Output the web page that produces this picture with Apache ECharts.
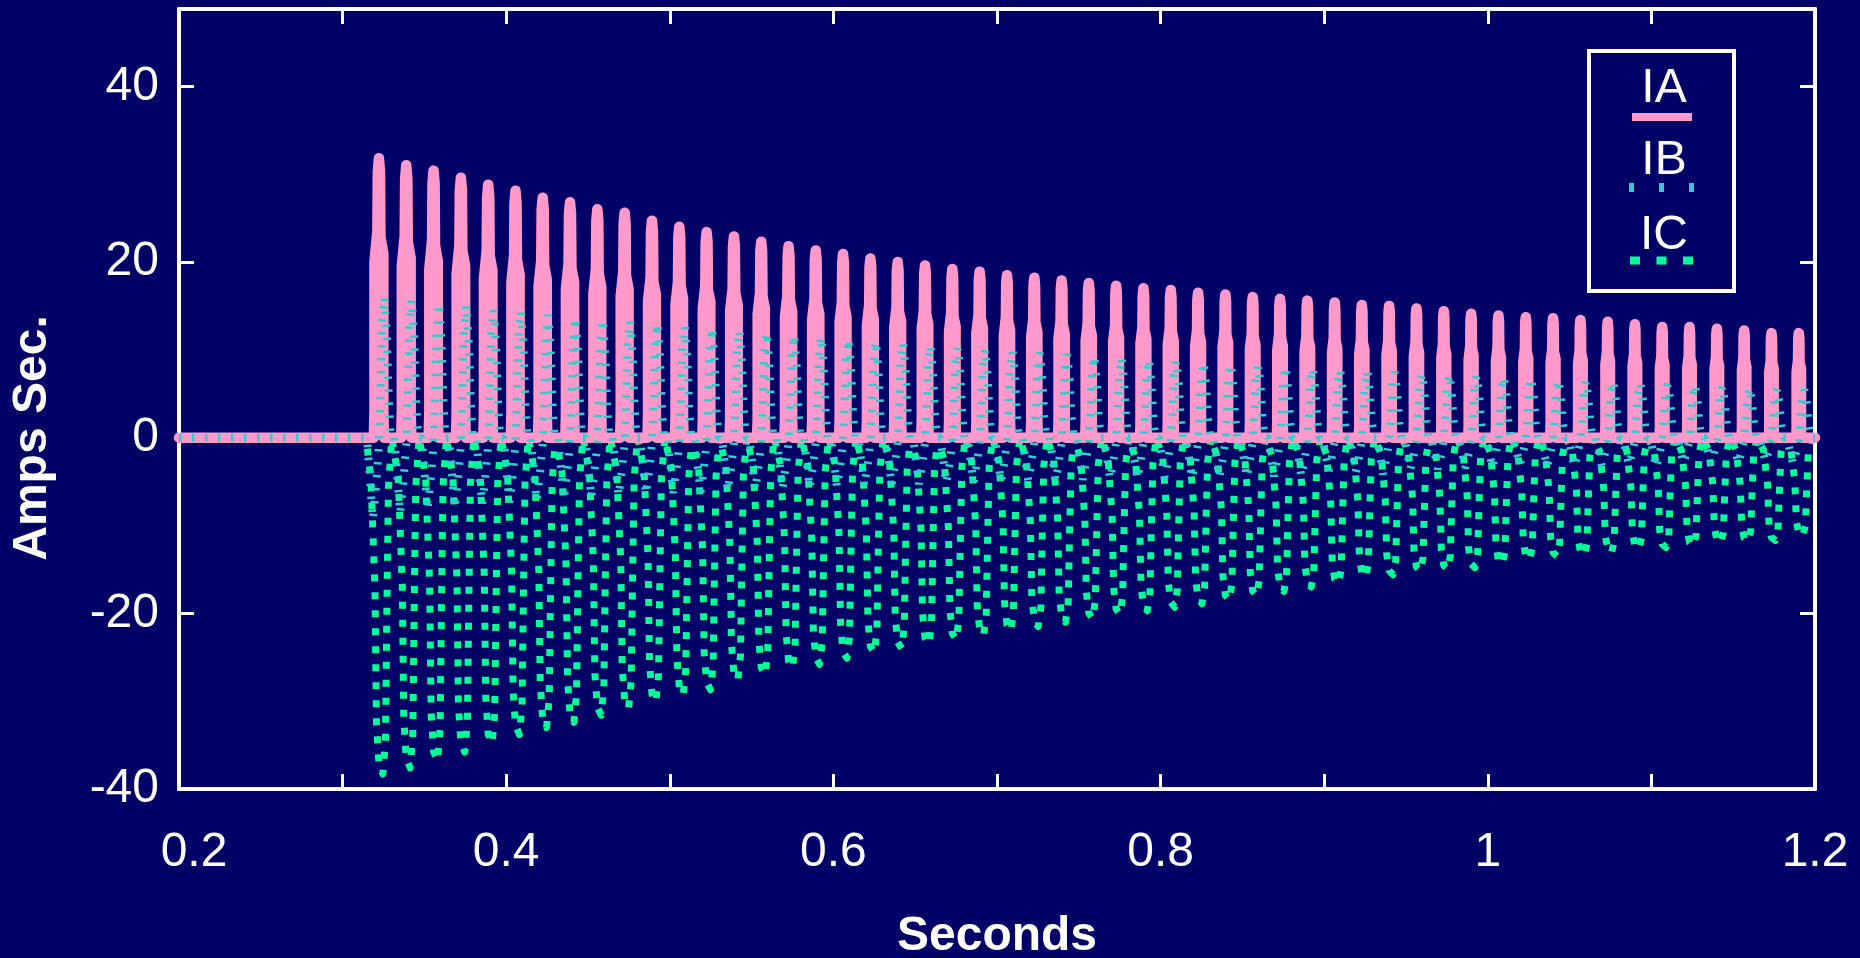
<!DOCTYPE html>
<html>
<head>
<meta charset="utf-8">
<title>Amps Sec.</title>
<script src="https://cdn.jsdelivr.net/npm/echarts@6/dist/echarts.min.js"></script>
<style>
html,body{margin:0;padding:0;background:#000066;}
#chart1{width:1860px;height:958px;}
</style>
</head>
<body>
<div id="chart1"></div>
<script>
// 每个周波峰值时刻 (s)
var cycleTimes = [0.3222,0.3389,0.3556,0.3723,0.3890,0.4057,0.4223,0.4390,0.4557,0.4724,
    0.4891,0.5058,0.5225,0.5392,0.5559,0.5726,0.5892,0.6059,0.6226,0.6393,
    0.6560,0.6727,0.6894,0.7061,0.7228,0.7395,0.7561,0.7728,0.7895,0.8062,
    0.8229,0.8396,0.8563,0.8730,0.8897,0.9064,0.9230,0.9397,0.9564,0.9731,
    0.9898,1.0065,1.0232,1.0399,1.0566,1.0733,1.0899,1.1066,1.1233,1.1400,
    1.1567,1.1734,1.1901];
// IA 每个周波的峰值
var iaPeaks = [31.8,31.0,30.4,29.6,28.8,28.1,27.3,26.8,26.0,25.6,
    24.7,24.0,23.4,22.9,22.3,21.8,21.3,20.9,20.4,20.0,
    19.6,19.2,18.9,18.5,18.2,17.9,17.6,17.3,17.0,16.8,
    16.5,16.3,16.0,15.8,15.6,15.4,15.1,15.0,14.7,14.4,
    14.1,13.9,13.7,13.6,13.4,13.2,12.9,12.6,12.6,12.4,
    12.2,11.9,11.9];
// IA 脉冲半宽 (ms)
var iaHalfWidths = [2.7,2.7,2.6,2.6,2.6,2.5,2.5,2.5,2.4,2.4,
    2.4,2.3,2.3,2.3,2.2,2.2,2.2,2.1,2.1,2.1,
    2.0,2.0,2.0,1.9,1.9,1.9,1.9,1.8,1.8,1.8,
    1.8,1.7,1.7,1.7,1.7,1.6,1.6,1.6,1.6,1.5,
    1.5,1.5,1.5,1.5,1.4,1.4,1.4,1.4,1.4,1.4,
    1.35,1.35,1.35];
// IB 正峰 / 负谷
var ibPeaks = [16.0,15.7,15.3,15.1,14.6,14.4,14.0,13.7,13.5,13.3,
    13.0,12.7,12.5,12.2,12.0,11.7,11.5,11.2,11.0,10.8,
    10.5,10.3,10.1,9.9,9.7,9.5,9.3,9.1,8.9,8.8,
    8.6,8.4,8.2,8.1,7.9,7.7,7.6,7.5,7.3,7.2,
    7.1,6.9,6.8,6.6,6.5,6.4,6.2,6.1,6.0,5.9,
    5.7,5.6,5.5];
var ibDips = [-9.3,-8.6,-8.2,-8.0,-7.6,-7.4,-7.2,-7.0,-6.8,-6.6,
    -6.4,-6.3,-6.2,-6.0,-5.9,-5.8,-5.7,-5.6,-5.5,-5.4,
    -5.3,-5.2,-5.1,-5.0,-4.9,-4.9,-4.8,-4.7,-4.7,-4.6,
    -4.6,-4.5,-4.5,-4.4,-4.4,-3.8,-3.9,-4.2,-3.6,-3.6,
    -3.5,-3.4,-3.1,-3.3,-3.3,-3.2,-3.1,-3.4,-2.9,-3.0,
    -2.9,-2.7,-2.9];
// IC 负谷
var icTroughs = [-38.3,-37.6,-36.8,-35.8,-34.8,-33.8,-33.0,-32.4,-31.6,-30.8,
    -30.1,-29.3,-28.7,-27.6,-27.0,-26.2,-25.8,-25.1,-24.5,-24.0,
    -23.5,-23.0,-22.5,-22.0,-21.5,-21.0,-20.6,-20.1,-19.7,-19.3,
    -18.9,-18.5,-18.0,-17.5,-17.0,-16.6,-15.9,-15.6,-15.2,-15.0,
    -14.8,-14.4,-13.9,-13.5,-13.4,-13.1,-12.7,-12.5,-12.3,-12.0,
    -11.8,-11.7,-11.2];

// 脉冲形状: [偏移, 比例]  IA 偏移单位为半宽, IB/IC 偏移单位为 ms
var iaShape = [[-1.15,0],[-1.0,0.1],[-1.0,0.63],[-0.35,0.74],[-0.25,0.95],[0,1],[0.25,0.95],[0.35,0.72],[1.0,0.66],[1.0,0.1],[1.15,0]];
var ibShape = [[-7.3,0,0],[-5.5,0,0.5],[-3.7,0,1],[-1.8,0,0.6],[0,0,0.1],[0.9,0.3,0],[1.8,0.8,0],[3.4,1,0],[4.9,0.7,0],[6.1,0.25,0],[7.3,0,0]];
var icShape = [[-7.9,0],[-4.9,0.12],[-2.4,0.45],[-1.5,0.85],[0,0.97],[2.4,1],[4.0,0.9],[4.9,0.5],[5.8,0.15],[7.9,0]];

var xRange = [0.2, 1.2];
var yRange = [-40, 48.8];

var seriesNames = ['IA','IB','IC'];
var seriesColors = ['#ff99cc','#33cccc','#00ff99'];

var fontName = "'Liberation Sans', Arial, sans-serif";

function buildIA(){
    var out = [[xRange[0],0]];
    for(var i=0;i<cycleTimes.length;i++){
        var h = iaHalfWidths[i]/1000;
        for(var k=0;k<iaShape.length;k++){
            out.push([cycleTimes[i]+iaShape[k][0]*h, iaShape[k][1]*iaPeaks[i]]);
        }
    }
    out.push([xRange[1],0]);
    return out;
}

function buildIB(){
    var out = [[xRange[0],0]];
    for(var i=0;i<cycleTimes.length;i++){
        for(var k=0;k<ibShape.length;k++){
            var s = ibShape[k];
            out.push([cycleTimes[i]+s[0]/1000, s[1]*ibPeaks[i]+s[2]*ibDips[i]]);
        }
    }
    out.push([xRange[1],0]);
    return out;
}

function buildIC(){
    var out = [[xRange[0],0]];
    for(var i=0;i<cycleTimes.length;i++){
        for(var k=0;k<icShape.length;k++){
            out.push([cycleTimes[i]+icShape[k][0]/1000, icShape[k][1]*icTroughs[i]]);
        }
    }
    out.push([xRange[1],0]);
    return out;
}

function axisX(pos, showLabel){
    return {
        type:'value', position:pos, min:xRange[0], max:xRange[1], interval:0.1,
        axisLine:{show:true, onZero:false, lineStyle:{color:'#fff', width:4}},
        axisTick:{show:true, inside:true, length:15, lineStyle:{color:'#fff', width:3}},
        splitLine:{show:false},
        axisLabel:{
            show:showLabel, color:'#fff', fontSize:48, fontFamily:fontName, margin:40,
            formatter:function(v){
                var n = Math.round(v*10);
                if(n===2) return '{first|0.2}';
                return n%2===0 ? String(n/10) : '';
            },
            rich:{
                first:{color:'#fff', fontSize:48, fontFamily:fontName, padding:[0,0,0,30]}
            }
        }
    };
}

function axisY(pos, showLabel){
    return {
        type:'value', position:pos, min:yRange[0], max:yRange[1], interval:20,
        axisLine:{show:true, onZero:false, lineStyle:{color:'#fff', width:4}},
        axisTick:{show:true, inside:true, length:15, lineStyle:{color:'#fff', width:3}},
        splitLine:{show:false},
        axisLabel:{show:showLabel, color:'#fff', fontSize:48, fontFamily:fontName, margin:20, showMaxLabel:false}
    };
}

var myChart = {
    init:function(){
        var option = {
            animation:false,
            backgroundColor:'#000066',
            grid:{left:179, right:45, top:9, bottom:169, containLabel:false, outerBoundsMode:'none'},
            xAxis:[axisX('bottom', true), axisX('top', false)],
            yAxis:[axisY('left', true), axisY('right', false)],
            series:[
                {
                    name:'IC', type:'line', showSymbol:false, z:2,
                    data:buildIC(),
                    lineStyle:{color:seriesColors[2], width:7, type:[7,11], cap:'butt', join:'round'}
                },
                {
                    name:'IA', type:'line', showSymbol:false, z:3,
                    data:buildIA(),
                    lineStyle:{color:seriesColors[0], width:10.5, type:'solid', cap:'round', join:'round'}
                },
                {
                    name:'IB', type:'line', showSymbol:false, z:4,
                    data:buildIB(),
                    lineStyle:{color:seriesColors[1], width:8, type:[2.5,10.5], cap:'butt', join:'bevel'}
                }
            ],
            graphic:[
                {type:'text', x:997, y:937, style:{text:'Seconds', fill:'#fff', font:'bold 48px '+fontName, align:'center', verticalAlign:'middle'}},
                {type:'text', x:33, y:438, rotation:Math.PI/2, style:{text:'Amps Sec.', fill:'#fff', font:'bold 48px '+fontName, align:'center', verticalAlign:'middle'}},
                // 图例
                {type:'rect', shape:{x:1589, y:51, width:145, height:240}, style:{fill:'#000066', stroke:'#fff', lineWidth:4}, z:10},
                {type:'text', x:1664, y:89, z:11, style:{text:seriesNames[0], fill:'#fff', font:'48px '+fontName, align:'center', verticalAlign:'middle'}},
                {type:'line', z:11, shape:{x1:1632, y1:117, x2:1692, y2:117}, style:{stroke:seriesColors[0], lineWidth:8}},
                {type:'text', x:1664, y:161, z:11, style:{text:seriesNames[1], fill:'#fff', font:'48px '+fontName, align:'center', verticalAlign:'middle'}},
                {type:'line', z:11, shape:{x1:1629, y1:187.5, x2:1694, y2:187.5}, style:{stroke:seriesColors[1], lineWidth:9, lineDash:[5,25]}},
                {type:'text', x:1664, y:236, z:11, style:{text:seriesNames[2], fill:'#fff', font:'48px '+fontName, align:'center', verticalAlign:'middle'}},
                {type:'line', z:11, shape:{x1:1630, y1:260.5, x2:1693, y2:260.5}, style:{stroke:seriesColors[2], lineWidth:8, lineDash:[10,16.5]}}
            ]
        };
        var chart = echarts.init(document.getElementById('chart1'));
        chart.setOption(option);
        return chart;
    }
};

var chartObj = myChart.init();
</script>
</body>
</html>
